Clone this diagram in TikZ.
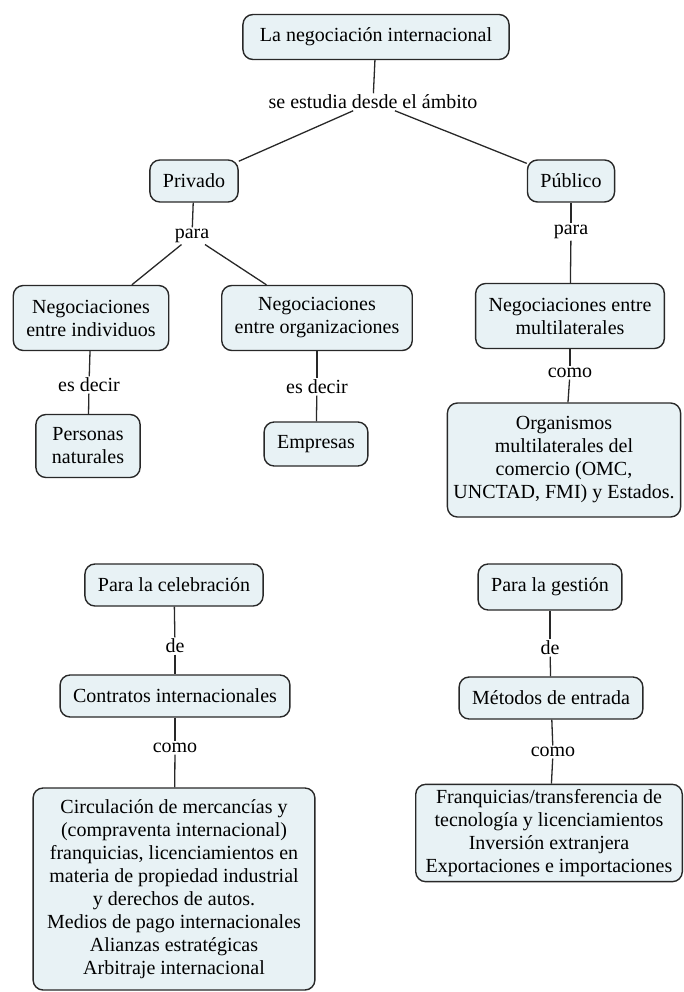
\documentclass[tikz,border=0pt]{standalone}
\usepackage{fontspec}
\setmainfont{Liberation Serif}
\definecolor{boxfill}{RGB}{232,242,245}
\definecolor{edge}{RGB}{40,40,40}
\tikzset{
  concept/.style={draw=edge, line width=1.4pt, rounded corners=10pt, fill=boxfill,
    align=center, inner xsep=13pt, inner ysep=5pt, minimum height=42pt,
    font=\fontsize{20}{23}\selectfont},
  linkword/.style={inner sep=1.5pt, font=\fontsize{20}{23}\selectfont},
  link/.style={draw=edge, line width=1.3pt}
}
\begin{document}
\begin{tikzpicture}[x=1pt,y=-1pt]
      \useasboundingbox (0,0) rectangle (683,992);

      \node [concept, minimum height=45pt, inner xsep=17pt] (negociacion) at (376,37) {La negociación internacional};
      \node [linkword] (ambito) at (373,102) {se estudia desde el ámbito};
      \node [concept] (privado) at (194,181) {Privado};
      \node [concept] (publico) at (571,181) {Público};

      \node [linkword] (paraL) at (192,236) {para};
      \node [linkword] (paraR) at (571,232) {para};
      \node [concept, minimum height=65pt] (individuos) at (91,318) {Negociaciones\\entre individuos};
      \node [concept, minimum height=65pt] (organizaciones) at (317,318) {Negociaciones\\entre organizaciones};
      \node [concept, minimum height=65pt] (multilaterales) at (570,316) {Negociaciones entre\\multilaterales};

      \node [linkword] (esdecirL) at (89,385) {es decir};
      \node [linkword] (esdecirR) at (317,387) {es decir};
      \node [linkword] (comoR) at (570,373) {como};
      \node [concept, minimum height=63pt, inner xsep=16pt] (personas) at (88,446) {Personas\\naturales};
      \node [concept, minimum height=44pt] (empresas) at (316,444) {Empresas};
      \node [concept, minimum height=114pt, inner xsep=6pt] (organismos) at (564,460) {Organismos\\multilaterales del\\comercio (OMC,\\UNCTAD, FMI) y Estados.};

      \node [concept] (celebracion) at (174,585) {Para la celebración};
      \node [linkword] (deL) at (175,646) {de};
      \node [concept] (contratos) at (175,696) {Contratos internacionales};
      \node [linkword] (comoL) at (175,748) {como};
      \node [concept, minimum height=202pt, inner xsep=14pt] (circulacion) at (174,889) {Circulación de mercancías y\\(compraventa internacional)\\franquicias, licenciamientos en\\materia de propiedad industrial\\y derechos de autos.\\Medios de pago internacionales\\Alianzas estratégicas\\Arbitraje internacional};

      \node [concept, minimum height=46pt] (gestion) at (550,587) {Para la gestión};
      \node [linkword] (deR) at (550,648) {de};
      \node [concept] (metodos) at (551,698) {Métodos de entrada};
      \node [linkword] (comoM) at (553,752) {como};
      \node [concept, minimum height=93pt, inner xsep=10pt] (franquicias) at (549,833) {Franquicias/transferencia de\\tecnología y licenciamientos\\Inversión extranjera\\Exportaciones e importaciones};

      \draw [link] (negociacion) -- (ambito);
      \draw [link] (ambito) -- (privado);
      \draw [link] (ambito) -- (publico);
      \draw [link] (privado) -- (paraL);
      \draw [link] (paraL) -- (individuos);
      \draw [link] (paraL) -- (organizaciones);
      \draw [link] (publico) -- (paraR);
      \draw [link] (paraR) -- (multilaterales);

      \draw [link] (individuos) -- (esdecirL);
      \draw [link] (esdecirL) -- (personas);
      \draw [link] (organizaciones) -- (esdecirR);
      \draw [link] (esdecirR) -- (empresas);
      \draw [link] (multilaterales) -- (comoR);
      \draw [link] (comoR) -- (organismos);

      \draw [link] (celebracion) -- (deL);
      \draw [link] (deL) -- (contratos);
      \draw [link] (contratos) -- (comoL);
      \draw [link] (comoL) -- (circulacion);
      \draw [link] (gestion) -- (deR);
      \draw [link] (deR) -- (metodos);
      \draw [link] (metodos) -- (comoM);
      \draw [link] (comoM) -- (franquicias);

    \end{tikzpicture}
\end{document}
